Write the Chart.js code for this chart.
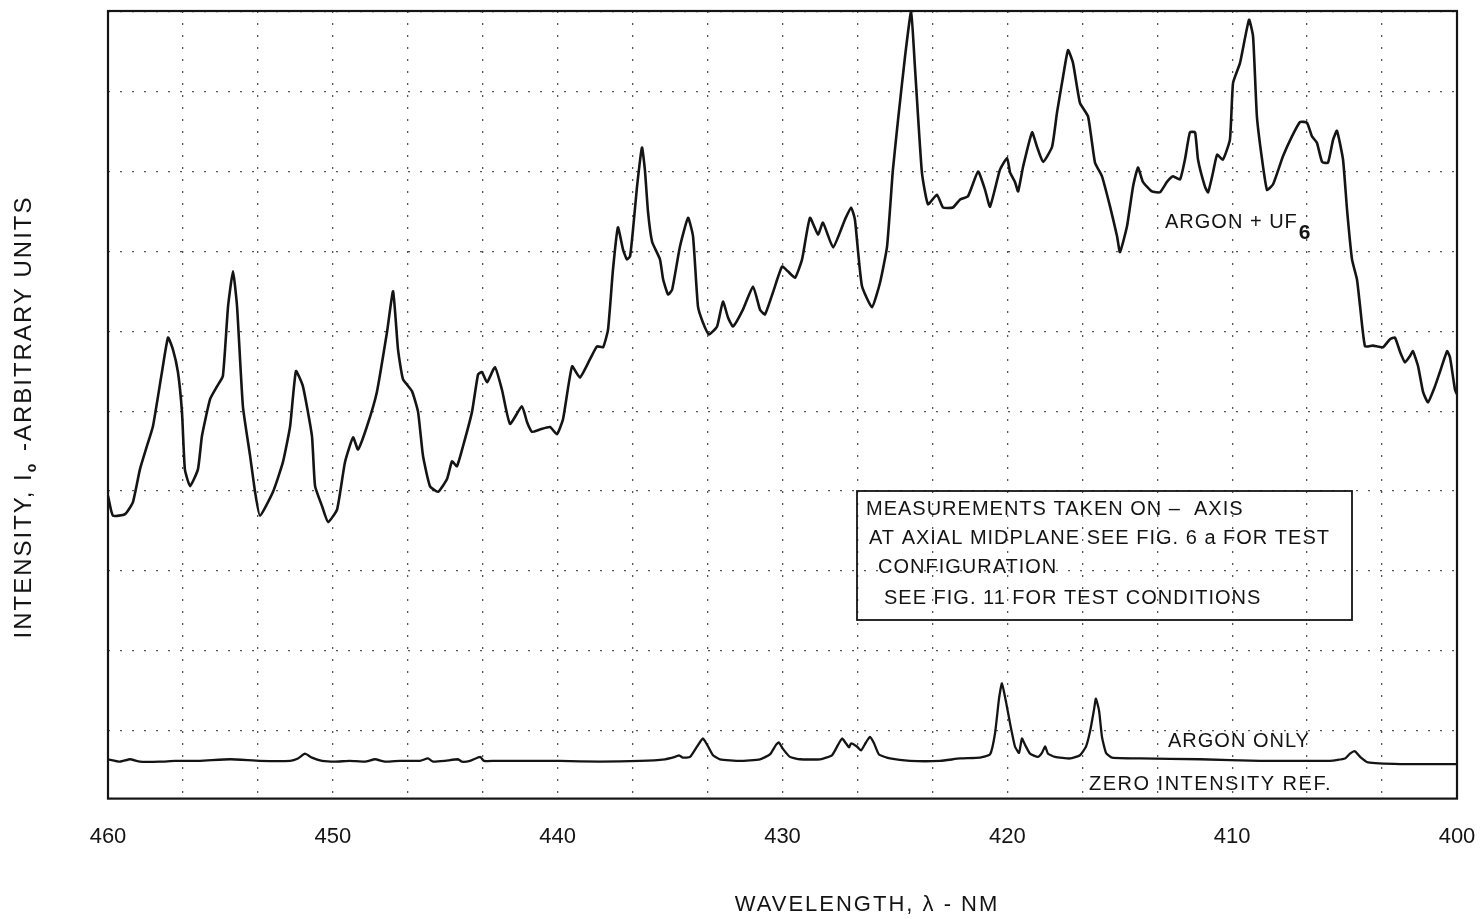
<!DOCTYPE html>
<html>
<head>
<meta charset="utf-8">
<title>Argon + UF6 emission spectrum</title>
<script src="https://cdn.jsdelivr.net/npm/chart.js@4.4.1/dist/chart.umd.min.js"></script>
<style>
  html, body { margin: 0; padding: 0; background: #fff; }
  #wrap { width: 1482px; height: 919px; }
</style>
</head>
<body>
<div id="wrap"><canvas id="spectrum" width="1482" height="919"></canvas></div>
<script>
// wavelength (nm) and intensity (arbitrary units, 0 = zero intensity ref.)
const uf6Wl = [
  460.00, 459.78, 459.24, 458.89, 458.58, 458.27, 458.00, 457.60, 457.33, 457.11,
  456.89, 456.71, 456.58, 456.35, 456.00, 455.82, 455.46, 455.15, 454.89, 454.66,
  454.44, 454.26, 454.00, 453.68, 453.46, 453.24, 452.66, 452.22, 451.90, 451.64,
  451.33, 450.93, 450.79, 450.48, 450.21, 449.81, 449.46, 449.10, 448.88, 448.48,
  448.04, 447.59, 447.32, 447.10, 446.88, 446.48, 446.21, 445.99, 445.68, 445.32,
  444.92, 444.70, 444.48, 444.21, 443.81, 443.54, 443.37, 443.14, 442.79, 442.48,
  442.12, 441.59, 441.36, 441.14, 440.79, 440.34, 440.03, 439.76, 439.36, 439.01,
  438.56, 438.25, 437.98, 437.76, 437.54, 437.32, 437.09, 436.92, 436.78, 436.65,
  436.47, 436.25, 436.12, 435.98, 435.80, 435.45, 435.31, 435.09, 434.91, 434.56,
  434.20, 433.98, 433.76, 433.54, 433.27, 432.91, 432.65, 432.42, 432.20, 431.76,
  431.31, 431.00, 430.78, 430.42, 430.02, 429.76, 429.44, 429.13, 428.78, 428.42,
  428.20, 427.75, 427.22, 426.95, 426.78, 426.64, 426.46, 426.02, 425.66, 425.35,
  425.09, 424.86, 424.55, 424.28, 424.11, 423.80, 423.53, 423.13, 422.86, 422.42,
  422.10, 421.75, 421.30, 420.99, 420.77, 420.33, 420.01, 419.88, 419.66, 419.52,
  419.30, 418.90, 418.68, 418.41, 418.01, 417.79, 417.52, 417.30, 417.08, 416.77,
  416.41, 416.10, 415.79, 415.43, 415.12, 414.99, 414.68, 414.41, 414.19, 413.97,
  413.57, 413.21, 412.90, 412.63, 412.32, 412.10, 411.88, 411.65, 411.52, 411.21,
  411.07, 410.85, 410.67, 410.41, 410.10, 409.96, 409.65, 409.25, 409.07, 408.90,
  408.67, 408.45, 408.18, 407.74, 407.34, 406.98, 406.67, 406.45, 406.23, 406.00,
  405.74, 405.51, 405.34, 405.07, 404.89, 404.67, 404.45, 404.31, 404.09, 403.74,
  403.29, 402.98, 402.76, 402.53, 402.31, 402.09, 401.96, 401.73, 401.51, 401.29,
  400.98, 400.76, 400.44, 400.31, 400.09, 400.00
];
const uf6Int = [
  33.3, 30.8, 31.0, 32.5, 36.6, 39.5, 42.0, 48.8, 53.1, 51.6,
  48.8, 43.8, 36.6, 34.5, 36.6, 40.8, 45.4, 47.0, 48.3, 57.0,
  61.4, 57.0, 44.5, 38.3, 33.8, 30.8, 33.8, 37.5, 42.0, 48.9,
  47.0, 40.8, 34.5, 32.0, 30.0, 31.6, 37.5, 40.6, 39.1, 42.0,
  46.3, 53.8, 58.9, 51.6, 47.9, 46.4, 43.8, 38.3, 34.5, 33.8,
  35.4, 37.6, 37.0, 39.5, 43.8, 48.5, 48.8, 47.5, 49.4, 46.6,
  42.3, 44.5, 42.5, 41.3, 41.6, 41.9, 41.0, 42.9, 49.5, 48.1,
  50.4, 52.0, 51.9, 54.1, 61.6, 66.9, 64.1, 62.9, 63.3, 66.6,
  72.0, 76.9, 74.1, 68.8, 65.1, 62.9, 60.4, 58.5, 59.1, 64.5,
  68.1, 65.8, 57.0, 55.0, 53.5, 54.5, 57.6, 55.6, 54.5, 56.6,
  59.5, 56.6, 56.0, 58.8, 62.0, 61.4, 60.6, 62.9, 68.1, 66.0,
  67.5, 64.4, 67.9, 69.4, 67.9, 63.9, 59.5, 56.9, 60.0, 64.5,
  74.1, 80.4, 88.3, 93.9, 87.0, 73.8, 69.8, 71.0, 69.4, 69.4,
  70.4, 70.8, 73.9, 71.6, 69.5, 74.1, 75.6, 73.8, 72.6, 71.4,
  74.5, 78.8, 77.0, 75.1, 77.0, 81.3, 85.8, 89.1, 87.5, 82.5,
  80.8, 75.0, 73.3, 69.5, 65.8, 63.8, 67.0, 72.0, 74.4, 72.6,
  71.4, 71.3, 72.6, 73.3, 72.9, 75.4, 78.8, 78.8, 75.4, 72.0,
  71.3, 73.8, 76.0, 75.4, 77.9, 85.0, 87.5, 92.9, 90.8, 80.8,
  75.4, 71.6, 72.3, 75.8, 78.3, 80.1, 80.0, 78.3, 77.5, 75.1,
  75.0, 77.9, 79.0, 75.4, 69.1, 62.9, 60.4, 57.0, 52.0, 52.1,
  51.9, 52.9, 53.1, 51.3, 50.0, 50.8, 51.4, 49.5, 46.3, 45.0,
  47.0, 48.8, 51.4, 50.6, 46.6, 46.0
];

const argonWl = [
  460.00, 459.47, 459.02, 458.58, 457.69, 457.02, 455.91, 454.57, 453.24, 451.90,
  451.55, 451.24, 450.93, 450.48, 449.90, 449.24, 448.57, 448.12, 447.68, 447.01,
  446.12, 445.77, 445.54, 445.01, 444.43, 444.26, 443.90, 443.45, 443.28, 442.79,
  442.12, 441.23, 439.90, 438.12, 436.34, 435.23, 434.78, 434.60, 434.43, 434.11,
  433.80, 433.54, 433.31, 433.09, 432.78, 431.89, 431.00, 430.56, 430.29, 430.16,
  429.98, 429.67, 429.22, 428.33, 427.80, 427.53, 427.35, 427.18, 427.04, 426.95,
  426.69, 426.51, 426.29, 426.11, 425.93, 425.71, 425.22, 424.33, 422.99, 422.10,
  421.22, 420.77, 420.55, 420.37, 420.24, 420.06, 419.88, 419.66, 419.48, 419.35,
  419.21, 418.99, 418.64, 418.46, 418.32, 418.19, 417.88, 417.21, 416.77, 416.50,
  416.32, 416.14, 416.06, 415.92, 415.79, 415.61, 415.34, 414.10, 411.43, 408.76,
  406.98, 405.65, 404.98, 404.76, 404.54, 404.31, 403.96, 402.53, 400.00
];
const argonInt = [
  0.3, 0.0, 0.3, 0.0, 0.0, 0.1, 0.1, 0.3, 0.1, 0.1,
  0.4, 1.0, 0.5, 0.1, 0.0, 0.1, 0.0, 0.3, 0.0, 0.1,
  0.1, 0.4, 0.0, 0.1, 0.3, 0.0, 0.1, 0.6, 0.1, 0.1,
  0.1, 0.1, 0.1, 0.0, 0.1, 0.3, 0.6, 0.8, 0.5, 0.6,
  1.9, 2.9, 1.9, 0.8, 0.3, 0.1, 0.3, 0.9, 2.1, 2.4,
  1.6, 0.6, 0.3, 0.3, 0.8, 2.1, 2.9, 2.3, 1.8, 2.3,
  1.9, 1.4, 2.4, 3.1, 2.3, 0.9, 0.4, 0.1, 0.1, 0.4,
  0.5, 0.9, 3.5, 7.9, 9.8, 7.5, 4.8, 1.9, 1.1, 2.9,
  2.1, 1.0, 0.6, 1.1, 1.9, 1.0, 0.6, 0.4, 0.8, 1.9,
  3.8, 6.6, 7.9, 6.4, 3.1, 1.1, 0.5, 0.4, 0.3, 0.1,
  0.1, 0.1, 0.4, 1.0, 1.3, 0.6, -0.1, -0.3, -0.3
];

// axis ticks: labelled every 10 nm, chart-paper grid every 10/3 nm
const xTickLabels = [460, 450, 440, 430, 420, 410, 400];
const xGridValues = Array.from({ length: 19 }, (_, k) => 400 + (k * 10) / 3);
const yGridValues = [3.875, 13.875, 23.875, 33.875, 43.875, 53.875, 63.875, 73.875, 83.875, 93.875];

const FONT = '"Liberation Sans", Arial, Helvetica, sans-serif';
const INK = "#141414";

// frame, axis titles and notes
const notesPlugin = {
  id: "notes",
  afterDraw(chart) {
    const ctx = chart.ctx;
    const a = chart.chartArea;
    ctx.save();
    ctx.strokeStyle = INK;
    ctx.fillStyle = INK;
    ctx.lineWidth = 2.2;
    ctx.strokeRect(a.left, a.top, a.right - a.left, a.bottom - a.top);

    // y title: INTENSITY, I(o) -ARBITRARY UNITS
    ctx.save();
    ctx.translate(24, 417);
    ctx.rotate(-Math.PI / 2);
    ctx.textBaseline = "middle";
    ctx.textAlign = "left";
    ctx.letterSpacing = "2px";
    const p1 = "INTENSITY, I";
    const p3 = " -ARBITRARY UNITS";
    ctx.font = "24px " + FONT;
    const w1 = ctx.measureText(p1).width;
    const w3 = ctx.measureText(p3).width;
    ctx.font = "bold 14px " + FONT;
    const w2 = ctx.measureText("o").width + 2;
    const x0 = -(w1 + w2 + w3) / 2;
    ctx.font = "24px " + FONT;
    ctx.fillText(p1, x0, 0);
    ctx.font = "bold 14px " + FONT;
    ctx.fillText("o", x0 + w1, 8);
    ctx.font = "24px " + FONT;
    ctx.fillText(p3, x0 + w1 + w2, 0);
    ctx.restore();

    // x title
    ctx.letterSpacing = "2px";
    ctx.font = "22px " + FONT;
    ctx.textAlign = "center";
    ctx.textBaseline = "middle";
    ctx.fillText("WAVELENGTH, \u03bb - NM", 867, 905);

    // curve labels
    ctx.textAlign = "left";
    ctx.letterSpacing = "1px";
    ctx.font = "20px " + FONT;
    ctx.fillText("ARGON + UF", 1165, 222);
    const wu = ctx.measureText("ARGON + UF").width;
    ctx.font = "bold 21px " + FONT;
    ctx.fillText("6", 1165 + wu + 1, 233);
    ctx.font = "20px " + FONT;
    ctx.fillText("ARGON ONLY", 1168, 741);
    ctx.letterSpacing = "1.5px";
    ctx.fillText("ZERO INTENSITY REF.", 1089, 784);

    // measurement note box
    ctx.lineWidth = 1.8;
    ctx.strokeRect(857, 491, 495, 129);
    ctx.letterSpacing = "1px";
    ctx.font = "20px " + FONT;
    ctx.fillText("MEASUREMENTS TAKEN ON \u2013  AXIS", 866, 509);
    ctx.fillText("AT AXIAL MIDPLANE SEE FIG. 6 a FOR TEST", 869, 538);
    ctx.fillText("CONFIGURATION", 878, 567);
    ctx.fillText("SEE FIG. 11 FOR TEST CONDITIONS", 884, 598);
    ctx.letterSpacing = "0px";
    ctx.restore();
  },
};

const ctx = document.getElementById("spectrum").getContext("2d");

new Chart(ctx, {
  type: "line",
  data: {
    datasets: [
      {
        label: "ARGON + UF6",
        data: uf6Wl.map((w, i) => ({ x: w, y: uf6Int[i] })),
        borderColor: INK,
        borderWidth: 2.6,
        pointRadius: 0,
        tension: 0.15,
        fill: false,
      },
      {
        label: "ARGON ONLY",
        data: argonWl.map((w, i) => ({ x: w, y: argonInt[i] })),
        borderColor: INK,
        borderWidth: 2.3,
        pointRadius: 0,
        tension: 0.15,
        fill: false,
      },
    ],
  },
  options: {
    responsive: false,
    devicePixelRatio: 1,
    animation: false,
    layout: {
      padding: { left: 108, right: 25, top: 11, bottom: 44 },
    },
    plugins: {
      legend: { display: false },
      tooltip: { enabled: false },
    },
    scales: {
      x: {
        type: "linear",
        min: 400,
        max: 460,
        reverse: true,
        afterBuildTicks: (scale) => {
          scale.ticks = xGridValues.map((v) => ({ value: v }));
        },
        ticks: {
          autoSkip: false,
          maxRotation: 0,
          padding: 25,
          color: INK,
          font: { family: FONT, size: 22 },
          callback: function (value) {
            const r = Math.round(value);
            return xTickLabels.includes(r) && Math.abs(value - r) < 0.01 ? String(r) : "";
          },
        },
        grid: {
          color: "#555",
          lineWidth: 1.3,
          drawTicks: false,
          tickLength: 0,
        },
        border: { display: false, dash: [2, 10] },
      },
      y: {
        type: "linear",
        min: -4.625,
        max: 94,
        afterBuildTicks: (scale) => {
          scale.ticks = yGridValues.map((v) => ({ value: v }));
        },
        ticks: { display: false },
        grid: {
          color: "#555",
          lineWidth: 1.3,
          drawTicks: false,
          tickLength: 0,
        },
        border: { display: false, dash: [2, 10] },
      },
    },
  },
  plugins: [notesPlugin],
});
</script>
</body>
</html>
